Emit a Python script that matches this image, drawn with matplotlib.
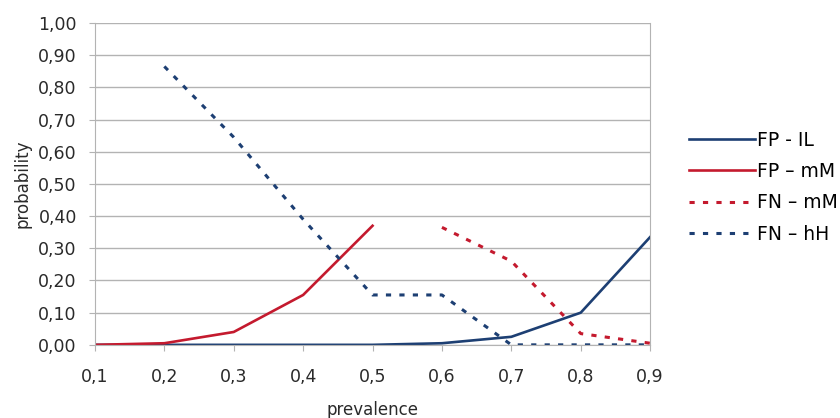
import numpy as np
import matplotlib.pyplot as plt
from matplotlib.ticker import FuncFormatter

prevalence = [0.1, 0.2, 0.3, 0.4, 0.5, 0.6, 0.7, 0.8, 0.9]
fp_il = [0.0, 0.0, 0.0, 0.0, 0.0, 0.005, 0.025, 0.10, 0.335]
fp_mm = [0.0, 0.005, 0.04, 0.155, 0.37, np.nan, np.nan, np.nan, np.nan]
fn_mm = [np.nan, np.nan, np.nan, np.nan, np.nan, 0.365, 0.26, 0.035, 0.005]
fn_hh = [np.nan, 0.865, 0.645, 0.39, 0.155, 0.155, 0.0, 0.0, 0.0]
labels = ["FP - IL", "FP \u2013 mM", "FN \u2013 mM", "FN \u2013 hH"]

plt.rcParams['font.family'] = ['DejaVu Sans']

blue = '#1d3f73'
red = '#c41a2e'
txt = '#2a2a2a'

fig = plt.figure(figsize=(8.4, 4.18), dpi=100)
ax = fig.add_axes([0.113, 0.175, 0.661, 0.77])

ax.plot(prevalence, fp_il, color=blue, lw=1.9, label=labels[0])
ax.plot(prevalence, fp_mm, color=red, lw=1.9, label=labels[1])
ax.plot(prevalence, fn_mm, color=red, lw=2.2, ls=(0, (1.7, 2.7)), label=labels[2])
ax.plot(prevalence, fn_hh, color=blue, lw=2.2, ls=(0, (1.7, 2.7)), label=labels[3])

ax.set_xlim(0.1, 0.9)
ax.set_ylim(0, 1.0)
ax.set_xticks(prevalence)
ax.set_yticks(np.arange(0, 1.01, 0.1))
ax.xaxis.set_major_formatter(FuncFormatter(lambda v, p: f"{v:.1f}".replace('.', ',')))
ax.yaxis.set_major_formatter(FuncFormatter(lambda v, p: f"{v:.2f}".replace('.', ',')))
ax.grid(axis='y', color='#b3b3b3', lw=1)
ax.set_axisbelow(True)
for s in ax.spines.values():
    s.set_color('#b3b3b3')
ax.spines['top'].set_visible(False)
ax.tick_params(colors='#b3b3b3', labelcolor=txt, labelsize=12.5, length=4)
ax.tick_params(axis='x', pad=13)
ax.tick_params(axis='y', pad=9)

ax.set_xlabel('prevalence', fontsize=12, color=txt, va='center')
ax.xaxis.set_label_coords(0.5, -0.202)
ax.set_ylabel('probability', fontsize=12, color=txt, va='center')
ax.yaxis.set_label_coords(-0.13, 0.5)

ax.legend(loc='center left', bbox_to_anchor=(1.07, 0.49), frameon=False,
          fontsize=13.5, handlelength=3.5, handletextpad=0.15, labelspacing=0.66,
          borderaxespad=0, borderpad=0)

fig.savefig('out.png', dpi=100)
